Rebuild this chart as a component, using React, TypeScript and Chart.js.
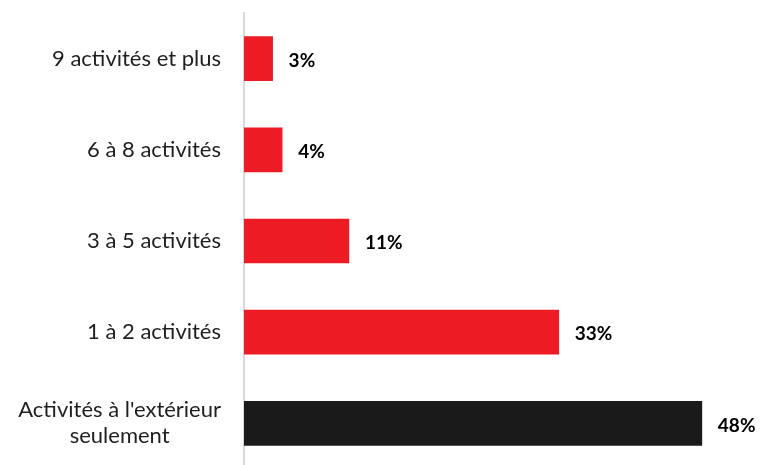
import React, { useEffect, useRef } from "react";
import { Chart, registerables } from "chart.js";

Chart.register(...registerables);

const categories: (string | string[])[] = [
  "9 activités et plus",
  "6 à 8 activités",
  "3 à 5 activités",
  "1 à 2 activités",
  ["Activités à l'extérieur", "seulement"],
];
const values = [3, 4, 11, 33, 48];
const barColors = ["#ED1C24", "#ED1C24", "#ED1C24", "#ED1C24", "#1A1A1A"];

const FONT = "Lato, 'Open Sans', sans-serif";

const valueLabels = {
  id: "valueLabels",
  afterDatasetsDraw(chart: any) {
    const ctx = chart.ctx;
    const meta = chart.getDatasetMeta(0);
    ctx.save();
    ctx.font = `bold 19px ${FONT}`;
    ctx.fillStyle = "#000000";
    ctx.textAlign = "left";
    ctx.textBaseline = "middle";
    meta.data.forEach((bar: any, i: number) => {
      ctx.fillText(`${values[i]}%`, bar.x + 16, bar.y + 2);
    });
    ctx.restore();
  },
};

// Category labels: right-aligned as a block, lines centred within the block
const categoryLabels = {
  id: "categoryLabels",
  afterDraw(chart: any) {
    const ctx = chart.ctx;
    const yScale = chart.scales.y;
    const right = yScale.right - 23;
    const lineH = 26;
    ctx.save();
    ctx.font = `22px ${FONT}`;
    ctx.fillStyle = "#1F1F1F";
    ctx.textBaseline = "middle";
    ctx.textAlign = "center";
    categories.forEach((label, i) => {
      const lines = Array.isArray(label) ? label : [label];
      const widest = Math.max(...lines.map((l) => ctx.measureText(l).width));
      const cx = right - widest / 2;
      const cy = yScale.getPixelForValue(i);
      const top = cy - ((lines.length - 1) * lineH) / 2;
      lines.forEach((l, k) => ctx.fillText(l, cx, top + k * lineH));
    });
    ctx.restore();
  },
};

export default function App() {
  const ref = useRef<HTMLCanvasElement>(null);
  useEffect(() => {
    if (!ref.current) return;
    const chart = new Chart(ref.current, {
      type: "bar",
      data: {
        labels: categories,
        datasets: [
          {
            data: values,
            backgroundColor: barColors,
            barThickness: 44,
          },
        ],
      },
      options: {
        indexAxis: "y",
        responsive: false,
        animation: false,
        layout: { padding: { top: 13, bottom: 0, left: 0, right: 21 } },
        plugins: { legend: { display: false }, tooltip: { enabled: false } },
        scales: {
          x: {
            display: false,
            min: 0,
            max: 52,
          },
          y: {
            grid: { display: false, drawTicks: false },
            border: { display: true, color: "#D9D9D9", width: 2 },
            ticks: { display: false },
            afterFit(scale: any) {
              scale.width = 244;
              scale.paddingTop = 0;
              scale.paddingBottom = 0;
            },
          },
        },
      },
      plugins: [valueLabels, categoryLabels],
    });
    return () => chart.destroy();
  }, []);
  return (
    <div
      style={{
        position: "fixed",
        left: 0,
        top: 0,
        width: 761,
        height: 465,
        overflow: "hidden",
        background: "#fff",
      }}
    >
      <canvas ref={ref} width={761} height={469} />
    </div>
  );
}
